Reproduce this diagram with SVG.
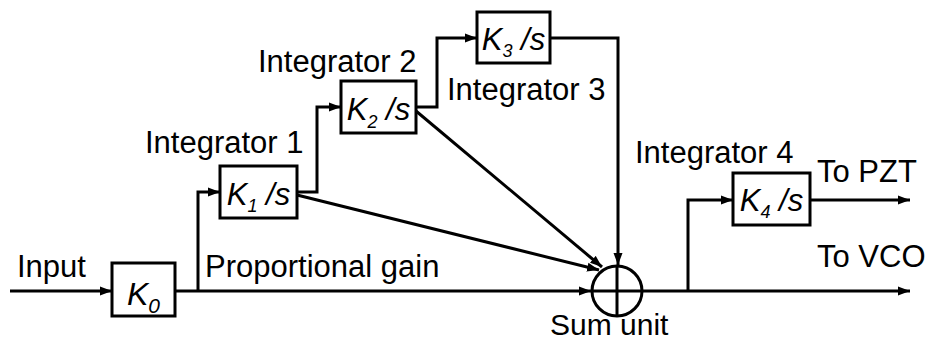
<svg xmlns="http://www.w3.org/2000/svg" width="930" height="342" viewBox="0 0 930 342">
<defs>
<style>
.lbl{font-family:"Liberation Sans",Arial,sans-serif;font-size:31px;fill:#000}
.k{font-family:"Liberation Sans",Arial,sans-serif;font-size:31px;font-style:italic;fill:#000}
.sub{font-size:18px}
.box{fill:#fff;stroke:#000;stroke-width:3}
.ln{fill:none;stroke:#000;stroke-width:3}
</style>
<marker id="ah" markerUnits="userSpaceOnUse" markerWidth="13" markerHeight="10" refX="12" refY="5" orient="auto">
<path d="M0,0.5 L12,5 L0,9.5 z" fill="#000"/>
</marker>
</defs>
<rect width="930" height="342" fill="#fff"/>
<g id="connectors">
<path class="ln" d="M10,291 H112" marker-end="url(#ah)"/>
<path class="ln" d="M175,291 H591" marker-end="url(#ah)"/>
<path class="ln" d="M198,291 V192 H220" marker-end="url(#ah)"/>
<path class="ln" d="M297,192 H317 V107 H341" marker-end="url(#ah)"/>
<path class="ln" d="M416,107 H437 V38 H477" marker-end="url(#ah)"/>
<path class="ln" d="M550,38 H618 V265" marker-end="url(#ah)"/>
<path class="ln" d="M297,195 L599,270" marker-end="url(#ah)"/>
<path class="ln" d="M416,111 L602,267" marker-end="url(#ah)"/>
<path class="ln" d="M643,291 H910" marker-end="url(#ah)"/>
<path class="ln" d="M688,291 V200 H733" marker-end="url(#ah)"/>
<path class="ln" d="M810,200 H910" marker-end="url(#ah)"/>
</g>
<g id="k0">
<rect class="box" x="112" y="263" width="63" height="53"/>
<text class="k" x="143.5" y="305" text-anchor="middle" style="font-size:32px">K<tspan style="font-size:21px" dy="8">0</tspan></text>
</g>
<g id="k1">
<rect class="box" x="220" y="166" width="77" height="52"/>
<text class="k" x="258.5" y="205" text-anchor="middle">K<tspan class="sub" dy="7">1</tspan><tspan dy="-7"> /s</tspan></text>
</g>
<g id="k2">
<rect class="box" x="341" y="81" width="75" height="52"/>
<text class="k" x="378.5" y="120" text-anchor="middle">K<tspan class="sub" dy="8">2</tspan><tspan dy="-8"> /s</tspan></text>
</g>
<g id="k3">
<rect class="box" x="477" y="12" width="73" height="51"/>
<text class="k" x="513.5" y="50" text-anchor="middle">K<tspan class="sub" dy="7">3</tspan><tspan dy="-7"> /s</tspan></text>
</g>
<g id="k4">
<rect class="box" x="733" y="173" width="77" height="52"/>
<text class="k" x="771.5" y="211" text-anchor="middle">K<tspan class="sub" dy="7">4</tspan><tspan dy="-7"> /s</tspan></text>
</g>
<g id="sum">
<circle cx="617" cy="291" r="25" fill="#fff" stroke="#000" stroke-width="3"/>
<path class="ln" d="M592,291 H642 M617,266 V316"/>
</g>
<g id="labels">
<text class="lbl" x="17" y="277">Input</text>
<text class="lbl" x="205" y="277">Proportional gain</text>
<text class="lbl" x="145" y="153">Integrator 1</text>
<text class="lbl" x="258" y="72">Integrator 2</text>
<text class="lbl" x="447" y="100">Integrator 3</text>
<text class="lbl" x="635" y="163">Integrator 4</text>
<text class="lbl" x="817" y="182">To PZT</text>
<text class="lbl" x="817" y="267">To VCO</text>
<text class="lbl" x="550" y="335" style="font-size:30px">Sum unit</text>
</g>
</svg>
